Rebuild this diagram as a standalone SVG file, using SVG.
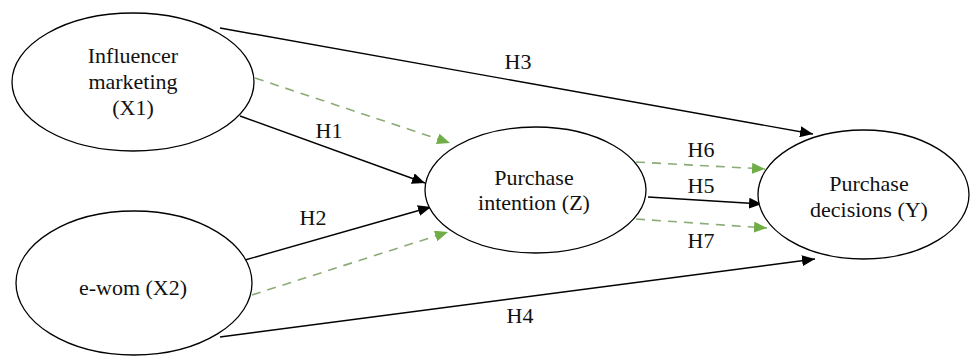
<svg xmlns="http://www.w3.org/2000/svg" width="971" height="356" viewBox="0 0 971 356">
<defs>
<marker id="ab" markerUnits="userSpaceOnUse" markerWidth="14" markerHeight="11" refX="13" refY="5.5" orient="auto">
<path d="M0,0 L13,5.5 L0,11 z" fill="#000"/>
</marker>
<marker id="ag" markerUnits="userSpaceOnUse" markerWidth="14" markerHeight="11" refX="13" refY="5.5" orient="auto">
<path d="M0,0 L13,5.5 L0,11 z" fill="#70ad47"/>
</marker>
</defs>
<style>
.node ellipse{fill:#fff;stroke:#000;stroke-width:1.3}
text{font-family:"Liberation Serif","Times New Roman",serif;fill:#111;text-anchor:middle}
.nt{font-size:22px}
.lb{font-size:22px}
.solid{stroke:#000;stroke-width:1.4;fill:none;marker-end:url(#ab)}
.dash{stroke:#8cab76;stroke-width:1.6;fill:none;stroke-dasharray:9 7;marker-end:url(#ag)}
</style>
<rect width="971" height="356" fill="#fff"/>
<g id="connectors">
<line class="solid" x1="220" y1="28" x2="813" y2="134"/>
<line class="dash" x1="255" y1="78" x2="450" y2="143"/>
<line class="solid" x1="240" y1="116" x2="425" y2="183"/>
<line class="solid" x1="245" y1="260" x2="431" y2="207"/>
<line class="dash" x1="252" y1="295" x2="448" y2="232"/>
<line class="solid" x1="220" y1="337" x2="815" y2="259"/>
<line class="dash" x1="636" y1="162" x2="765" y2="169"/>
<line class="solid" x1="648" y1="197" x2="762" y2="204"/>
<line class="dash" x1="636" y1="219" x2="767" y2="228"/>
<text class="lb" x="329" y="138">H1</text>
<text class="lb" x="313" y="225">H2</text>
<text class="lb" x="518" y="69">H3</text>
<text class="lb" x="520" y="323">H4</text>
<text class="lb" x="701" y="193">H5</text>
<text class="lb" x="701" y="157">H6</text>
<text class="lb" x="701" y="248">H7</text>
</g>
<g id="X1" class="node">
<ellipse cx="133" cy="82" rx="121" ry="69"/>
<text class="nt" x="133" y="63">Influencer</text>
<text class="nt" x="133" y="89">marketing</text>
<text class="nt" x="133" y="115">(X1)</text>
</g>
<g id="X2" class="node">
<ellipse cx="134" cy="283" rx="118" ry="72"/>
<text class="nt" x="133" y="295">e-wom (X2)</text>
</g>
<g id="Z" class="node">
<ellipse cx="535.5" cy="190" rx="110.5" ry="63"/>
<text class="nt" x="534" y="185">Purchase</text>
<text class="nt" x="534" y="210">intention (Z)</text>
</g>
<g id="Y" class="node">
<ellipse cx="863.5" cy="194.5" rx="105.5" ry="64.5"/>
<text class="nt" x="869" y="191">Purchase</text>
<text class="nt" x="869" y="217">decisions (Y)</text>
</g>
</svg>
